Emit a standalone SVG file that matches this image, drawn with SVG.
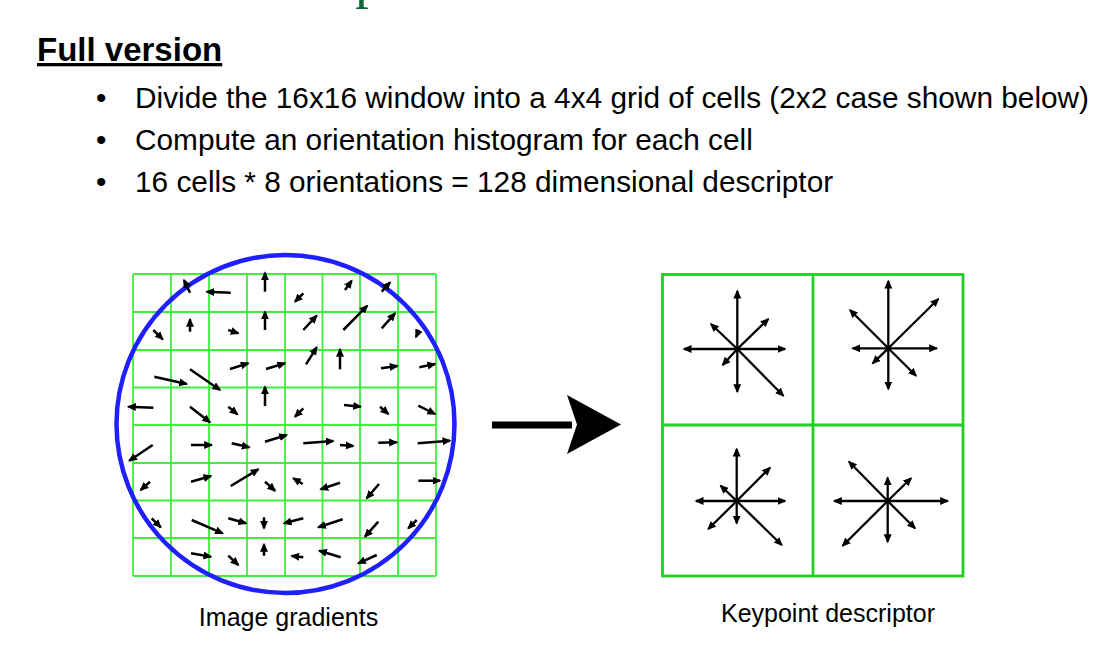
<svg xmlns="http://www.w3.org/2000/svg" width="1100" height="666" viewBox="0 0 1100 666">
  <style>
    .txt { font-family: "Liberation Sans", Arial, sans-serif; fill: #000; }
    .head { font-size: 33px; font-weight: bold; text-decoration: underline; }
    .bul { font-size: 29.8px; }
    .lbl { font-size: 25px; text-anchor: middle; }
    .grid line { stroke: #3cf03c; stroke-width: 1.8; }
    .grad line { stroke: #000; stroke-width: 2.5; marker-end: url(#ah); }
    .desc rect, .desc line.frame { fill: none; stroke: #22d022; stroke-width: 2.8; }
    .ray line { stroke: #000; stroke-width: 2.3; marker-end: url(#ah2); }
  </style>
  <defs>
    <marker id="ah" markerUnits="userSpaceOnUse" markerWidth="10" markerHeight="9" refX="7.5" refY="4" orient="auto">
      <path d="M0,0 L9,4 L0,8 z" fill="#000"/>
    </marker>
    <marker id="ah2" markerUnits="userSpaceOnUse" markerWidth="10" markerHeight="9" refX="7.5" refY="4" orient="auto">
      <path d="M0,0 L9,4 L0,8 z" fill="#000"/>
    </marker>
  </defs>
  <rect width="1100" height="666" fill="#fff"/>

  <!-- tail of the title line above -->
  <text x="355" y="-3.5" font-family="'Liberation Serif', 'Times New Roman', serif" font-size="56" fill="#126b3a">p</text>

  <!-- heading and bullets -->
  <text class="txt head" x="37" y="61">Full version</text>
  <g class="txt bul">
    <text x="96" y="107.5">•</text>
    <text x="135" y="107.5">Divide the 16x16 window into a 4x4 grid of cells (2x2 case shown below)</text>
    <text x="96" y="150">•</text>
    <text x="135" y="150">Compute an orientation histogram for each cell</text>
    <text x="96" y="192">•</text>
    <text x="135" y="192">16 cells * 8 orientations = 128 dimensional descriptor</text>
  </g>

  <!-- left: 8x8 grid of image gradients -->
  <g id="gradients">
    <g class="grid">
      <line x1="133" y1="274" x2="133" y2="576"/>
      <line x1="171" y1="274" x2="171" y2="576"/>
      <line x1="209" y1="274" x2="209" y2="576"/>
      <line x1="247" y1="274" x2="247" y2="576"/>
      <line x1="285" y1="274" x2="285" y2="576"/>
      <line x1="322.5" y1="274" x2="322.5" y2="576"/>
      <line x1="360" y1="274" x2="360" y2="576"/>
      <line x1="398" y1="274" x2="398" y2="576"/>
      <line x1="436" y1="274" x2="436" y2="576"/>
      <line x1="133" y1="274" x2="436" y2="274"/>
      <line x1="133" y1="312" x2="436" y2="312"/>
      <line x1="133" y1="350" x2="436" y2="350"/>
      <line x1="133" y1="387.5" x2="436" y2="387.5"/>
      <line x1="133" y1="425" x2="436" y2="425"/>
      <line x1="133" y1="463" x2="436" y2="463"/>
      <line x1="133" y1="500.5" x2="436" y2="500.5"/>
      <line x1="133" y1="538" x2="436" y2="538"/>
      <line x1="133" y1="576" x2="436" y2="576"/>
    </g>
    <circle cx="285.5" cy="424" r="169" fill="none" stroke="#1f1fff" stroke-width="4.5"/>
    <g class="grad">
      <!-- row 0 -->
      <line x1="190" y1="292.7" x2="184" y2="280"/>
      <line x1="230.7" y1="292.7" x2="206.7" y2="291.7"/>
      <line x1="265" y1="291.7" x2="265" y2="272.7"/>
      <line x1="303.3" y1="293.3" x2="295" y2="301.7"/>
      <line x1="345" y1="290" x2="351.7" y2="280.7"/>
      <line x1="381.7" y1="291.7" x2="390" y2="282.3"/>
      <!-- row 1 -->
      <line x1="153.3" y1="330" x2="162.7" y2="339.3"/>
      <line x1="190" y1="331.7" x2="190" y2="319.3"/>
      <line x1="228.3" y1="330" x2="238.3" y2="333.3"/>
      <line x1="265" y1="330" x2="265" y2="311.7"/>
      <line x1="303.3" y1="330" x2="316.7" y2="315.7"/>
      <line x1="343.3" y1="330" x2="367.3" y2="305.7"/>
      <line x1="381.7" y1="328.3" x2="395" y2="313.3"/>
      <line x1="419" y1="330" x2="416" y2="337"/>
      <!-- row 2 -->
      <line x1="154.3" y1="376.7" x2="186.7" y2="384"/>
      <line x1="190" y1="369.3" x2="220" y2="390"/>
      <line x1="230" y1="369" x2="248.3" y2="363.3"/>
      <line x1="266" y1="369" x2="285" y2="363.3"/>
      <line x1="306" y1="364.3" x2="316.7" y2="347.3"/>
      <line x1="340" y1="369.3" x2="340" y2="349.3"/>
      <line x1="381" y1="368.3" x2="397.3" y2="366"/>
      <line x1="419.3" y1="367.3" x2="435" y2="364"/>
      <!-- row 3 -->
      <line x1="153.3" y1="407.7" x2="128.3" y2="406.7"/>
      <line x1="190" y1="406.7" x2="210" y2="422.3"/>
      <line x1="228.3" y1="406.7" x2="237.3" y2="414.3"/>
      <line x1="265" y1="406" x2="265" y2="386.7"/>
      <line x1="303.3" y1="408.3" x2="295" y2="416.7"/>
      <line x1="344" y1="405" x2="360.7" y2="406.7"/>
      <line x1="380" y1="406.7" x2="388.3" y2="414"/>
      <line x1="418.3" y1="405.7" x2="435" y2="414"/>
      <!-- row 4 -->
      <line x1="152.7" y1="445" x2="129.3" y2="460.7"/>
      <line x1="191" y1="445" x2="211.7" y2="445"/>
      <line x1="231.7" y1="443.3" x2="249.3" y2="447.3"/>
      <line x1="265" y1="441.7" x2="286.7" y2="435"/>
      <line x1="303.3" y1="443.3" x2="333.3" y2="441"/>
      <line x1="340" y1="445" x2="353.3" y2="446"/>
      <line x1="378.3" y1="442.7" x2="396.7" y2="442.3"/>
      <line x1="417.7" y1="443.3" x2="450" y2="440.7"/>
      <!-- row 5 -->
      <line x1="150" y1="481.7" x2="140.7" y2="490"/>
      <line x1="191" y1="481.7" x2="211" y2="476"/>
      <line x1="230.7" y1="486" x2="258.3" y2="469.3"/>
      <line x1="265" y1="481.7" x2="275" y2="490.7"/>
      <line x1="302.7" y1="484" x2="293.3" y2="478.3"/>
      <line x1="340" y1="482.7" x2="320.7" y2="489.3"/>
      <line x1="379" y1="484" x2="366.7" y2="498.3"/>
      <line x1="418.3" y1="480.7" x2="440" y2="480.7"/>
      <!-- row 6 -->
      <line x1="151.7" y1="518.3" x2="160.7" y2="527.3"/>
      <line x1="191.7" y1="520" x2="222.7" y2="533.3"/>
      <line x1="228.3" y1="518.3" x2="246" y2="523.3"/>
      <line x1="264" y1="517.3" x2="264" y2="528.3"/>
      <line x1="303.3" y1="518.3" x2="284" y2="523.3"/>
      <line x1="342.7" y1="519.3" x2="318.3" y2="527.3"/>
      <line x1="378.3" y1="521.7" x2="365" y2="536.7"/>
      <line x1="416.7" y1="520" x2="408.3" y2="528.3"/>
      <!-- row 7 -->
      <line x1="191" y1="553.3" x2="211" y2="556.7"/>
      <line x1="228.3" y1="555.7" x2="238.3" y2="565"/>
      <line x1="264" y1="555.7" x2="264" y2="544.3"/>
      <line x1="303.3" y1="557.3" x2="291.7" y2="556"/>
      <line x1="340.7" y1="557.3" x2="319.3" y2="550.7"/>
      <line x1="376.7" y1="555" x2="358.3" y2="563.3"/>
    </g>
    <text class="txt lbl" x="288.5" y="626">Image gradients</text>
  </g>

  <!-- connector between the two panels -->
  <g id="connectors">
    <rect x="492" y="421.5" width="80" height="7" fill="#000"/>
    <path d="M567,395 L621,424.5 L567,454 L577,424.5 z" fill="#000"/>
  </g>

  <!-- right: 2x2 keypoint descriptor -->
  <g id="descriptor" class="desc">
    <rect x="662.5" y="274.5" width="300.5" height="301.5"/>
    <line class="frame" x1="813" y1="274.5" x2="813" y2="576"/>
    <line class="frame" x1="662.5" y1="425" x2="963" y2="425"/>
    <g id="cell-tl" class="ray">
      <line x1="737.3" y1="349" x2="737.3" y2="291"/>
      <line x1="737.3" y1="349" x2="785" y2="349"/>
      <line x1="737.3" y1="349" x2="684" y2="349"/>
      <line x1="737.3" y1="349" x2="737.3" y2="391.7"/>
      <line x1="737.3" y1="349" x2="768.3" y2="319"/>
      <line x1="737.3" y1="349" x2="711" y2="324"/>
      <line x1="737.3" y1="349" x2="722.7" y2="365"/>
      <line x1="737.3" y1="349" x2="783.3" y2="395.7"/>
    </g>
    <g id="cell-tr" class="ray">
      <line x1="888.3" y1="348.3" x2="888.3" y2="281"/>
      <line x1="888.3" y1="348.3" x2="936.7" y2="348.3"/>
      <line x1="888.3" y1="348.3" x2="852.7" y2="348.3"/>
      <line x1="888.3" y1="348.3" x2="888.3" y2="389"/>
      <line x1="888.3" y1="348.3" x2="938.3" y2="299"/>
      <line x1="888.3" y1="348.3" x2="850" y2="310"/>
      <line x1="888.3" y1="348.3" x2="872.7" y2="363.3"/>
      <line x1="888.3" y1="348.3" x2="916" y2="375.7"/>
    </g>
    <g id="cell-bl" class="ray">
      <line x1="736.7" y1="501" x2="736.7" y2="449"/>
      <line x1="736.7" y1="501" x2="785" y2="501"/>
      <line x1="736.7" y1="501" x2="696" y2="501"/>
      <line x1="736.7" y1="501" x2="736.7" y2="523.3"/>
      <line x1="736.7" y1="501" x2="770" y2="467.7"/>
      <line x1="736.7" y1="501" x2="720.7" y2="485.7"/>
      <line x1="736.7" y1="501" x2="708.3" y2="529"/>
      <line x1="736.7" y1="501" x2="781.7" y2="545"/>
    </g>
    <g id="cell-br" class="ray">
      <line x1="887.7" y1="501" x2="887.7" y2="477.7"/>
      <line x1="887.7" y1="501" x2="947.7" y2="501"/>
      <line x1="887.7" y1="501" x2="834.3" y2="501"/>
      <line x1="887.7" y1="501" x2="887.7" y2="541.7"/>
      <line x1="887.7" y1="501" x2="911" y2="478.3"/>
      <line x1="887.7" y1="501" x2="849" y2="461.7"/>
      <line x1="887.7" y1="501" x2="842.7" y2="545.7"/>
      <line x1="887.7" y1="501" x2="915" y2="528.3"/>
    </g>
    <text class="txt lbl" x="828" y="622">Keypoint descriptor</text>
  </g>
</svg>
